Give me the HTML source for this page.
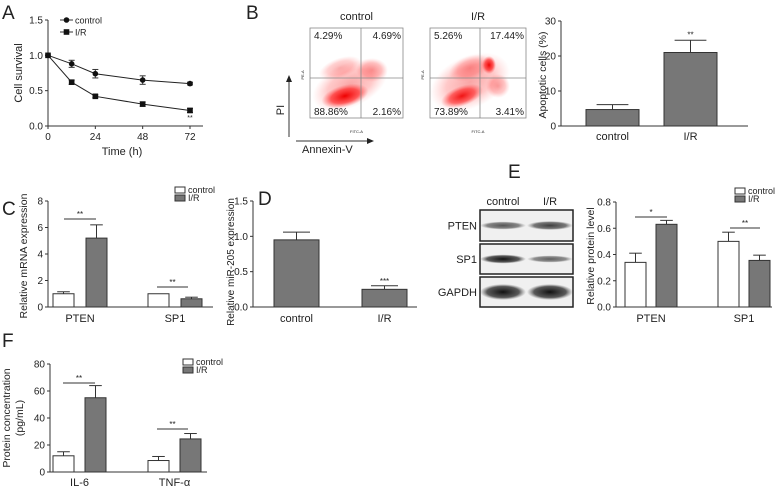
<!DOCTYPE html>
<html><head><meta charset="utf-8"><style>
html,body{margin:0;padding:0;background:#fff}
svg{display:block;font-family:"Liberation Sans",sans-serif}
text{fill:#222}
</style></head><body>
<svg id="fig" width="778" height="488" viewBox="0 0 778 488">
<defs>
<radialGradient id="dots" cx="50%" cy="50%" r="50%"><stop offset="0" stop-color="#e00" stop-opacity="1"/><stop offset="0.6" stop-color="#f22" stop-opacity="0.7"/><stop offset="1" stop-color="#f55" stop-opacity="0"/></radialGradient>
<radialGradient id="band" cx="50%" cy="50%" r="50%"><stop offset="0" stop-color="#111"/><stop offset="0.7" stop-color="#333" stop-opacity="0.8"/><stop offset="1" stop-color="#666" stop-opacity="0"/></radialGradient>
</defs>
<g id="root"></g>
</svg>
<script>
// ---- data ----
const aTimes=[0,12,24,48,72];
const aControl=[1.0,0.88,0.74,0.65,0.60];
const aControlErr=[0,0.05,0.06,0.06,0.02];
const aIR=[1.0,0.62,0.42,0.31,0.22];
const aIRErr=[0,0.03,0.02,0.03,0.03];
const aXTicks=[0,24,48,72];
const aYTicks=["0.0","0.5","1.0","1.5"];

const bCats=["control","I/R"];
const bValues=[4.7,21];
const bErr=[1.4,3.5];
const bYTicks=[0,10,20,30];

const cCats=["PTEN","SP1"];
const cControl=[1.0,1.0];
const cControlErr=[0.15,0.0];
const cIR=[5.2,0.62];
const cIRErr=[1.0,0.12];
const cYTicks=[0,2,4,6,8];

const dCats=["control","I/R"];
const dValues=[0.95,0.25];
const dErr=[0.11,0.05];
const dYTicks=["0.0","0.5","1.0","1.5"];

const eCats=["PTEN","SP1"];
const eControl=[0.34,0.50];
const eControlErr=[0.07,0.07];
const eIR=[0.63,0.355];
const eIRErr=[0.03,0.04];
const eYTicks=["0.0","0.2","0.4","0.6","0.8"];

const fCats=["IL-6","TNF-α"];
const fControl=[12,8.5];
const fControlErr=[3,3];
const fIR=[55,24.5];
const fIRErr=[9,4];
const fYTicks=[0,20,40,60,80];

const NS="http://www.w3.org/2000/svg";
const root=document.getElementById('root');
function mk(tag,attrs,parent,txt){const e=document.createElementNS(NS,tag);for(const k in attrs)e.setAttribute(k,attrs[k]);if(txt!==undefined)e.textContent=txt;(parent||root).appendChild(e);return e;}
function grp(name){const g=mk('g',{});return g;}
function line(p,x1,y1,x2,y2,w){return mk('line',{x1,y1,x2,y2,stroke:'#333','stroke-width':w||1},p);}
function txt(p,x,y,s,size,anchor,extra){const t=mk('text',Object.assign({x,y,'font-size':size||10,'text-anchor':anchor||'middle'},extra||{}),p,s);return t;}
function letter(s,x,y){const t=txt(root,x,y,s,19,'start');}
function yAxis(g,x,y0,y1,ticks,vmax,xEnd){
  const ys=v=>y0-(v/vmax)*(y0-y1);
  line(g,x,y0,x,y1);line(g,x,y0,xEnd,y0);
  ticks.forEach(t=>{const v=parseFloat(t);const y=ys(v);line(g,x-3,y,x,y);txt(g,x-5,y+3.5,String(t),10,'end');});
  return ys;
}
function ytitle(g,x,y,s,size){txt(g,x,y,s,size||11,'middle',{transform:`rotate(-90 ${x} ${y})`});}
function bar(g,x,w,v,err,ys,fill,name){
  const y=ys(v),y0=ys(0);
  const r=mk('rect',{x,y,width:w,height:y0-y,fill,stroke:'#333','stroke-width':1},g);
  
  if(err>0){const ye=ys(v+err);line(g,x+w/2,y,x+w/2,ye);line(g,x+w/2-w*0.3,ye,x+w/2+w*0.3,ye);}
}
function legend(g,x,y){
  mk('rect',{x,y:y-6,width:10,height:6,fill:'#fff',stroke:'#333','stroke-width':1},g);
  txt(g,x+13,y,'control',9,'start');
  mk('rect',{x,y:y+2,width:10,height:6,fill:'#777',stroke:'#333','stroke-width':1},g);
  txt(g,x+13,y+8,'I/R',9,'start');
}
function sig(g,x1,x2,y,s){line(g,x1,y,x2,y);txt(g,(x1+x2)/2,y-2,s,8);}
function grouped(name,ox,y0,y1,xEnd,ticks,vmax,cats,c,ce,ir,ire,groupX,bw,gap,labelY){
  const g=grp(name);
  const ys=yAxis(g,ox,y0,y1,ticks,vmax,xEnd);
  cats.forEach((cat,i)=>{
    const gx=groupX[i];
    bar(g,gx,bw,c[i],ce[i],ys,'#fff','bar-'+cat.toLowerCase()+'-control');
    bar(g,gx+bw+gap,bw,ir[i],ire[i],ys,'#777','bar-'+cat.toLowerCase()+'-ir');
    txt(g,gx+bw+gap/2,labelY,cat,11);
  });
  return {g,ys};
}

// ---- Panel A ----
letter('A',2,19);
{
  const g=grp('cell-survival-chart');
  const xs=t=>48+t/72*142;
  const ys=v=>126-v/1.5*106;
  line(g,48,126,48,20);line(g,48,126,203,126);
  aYTicks.forEach(t=>{const y=ys(parseFloat(t));line(g,45,y,48,y);txt(g,43,y+3.5,t,10,'end');});
  aXTicks.forEach(t=>{const x=xs(t);line(g,x,126,x,129);txt(g,x,140,String(t),10);});
  txt(g,122,155,'Time (h)',11);
  ytitle(g,22,73,'Cell survival',11);
  [[aControl,aControlErr,'circle','control'],[aIR,aIRErr,'square','ir']].forEach(([vals,errs,shape,nm])=>{
    const pts=aTimes.map((t,i)=>xs(t)+','+ys(vals[i])).join(' ');
    const pl=mk('polyline',{points:pts,fill:'none',stroke:'#222','stroke-width':1},g);
    
    aTimes.forEach((t,i)=>{
      const x=xs(t),y=ys(vals[i]);
      if(errs[i]>0){line(g,x,ys(vals[i]+errs[i]),x,ys(vals[i]-errs[i]));line(g,x-3,ys(vals[i]+errs[i]),x+3,ys(vals[i]+errs[i]));line(g,x-3,ys(vals[i]-errs[i]),x+3,ys(vals[i]-errs[i]));}
      if(shape==='circle')mk('circle',{cx:x,cy:y,r:2.8,fill:'#111'},g);
      else mk('rect',{x:x-2.8,y:y-2.8,width:5.6,height:5.6,fill:'#111'},g);
    });
  });
  txt(g,190,120,'**',7);
  line(g,60,20,73,20);mk('circle',{cx:66.5,cy:20,r:2.8,fill:'#111'},g);txt(g,75,23.5,'control',9,'start');
  line(g,60,32,73,32);mk('rect',{x:63.7,y:29.2,width:5.6,height:5.6,fill:'#111'},g);txt(g,75,35.5,'I/R',9,'start');
}

// ---- Panel B flow ----
letter('B',246,19);
{
  const g=grp('flow-cytometry');
  const plots=[{x:310,w:93,gx:361,t:'control',q:['4.29%','4.69%','88.86%','2.16%'],blobs:[[350,85,40,22,-25,0.35],[345,96,24,11,-15,1],[372,70,16,12,0,0.35],[340,68,22,10,-20,0.3]]},
               {x:430,w:96,gx:480,t:'I/R',q:['5.26%','17.44%','73.89%','3.41%'],blobs:[[470,82,42,26,-25,0.35],[462,96,22,10,-20,0.9],[489,65,7,9,0,1],[470,68,22,12,-20,0.35],[498,86,12,12,0,0.35]]}];
  plots.forEach(p=>{
    const pg=mk('g',{},g);
    mk('rect',{x:p.x,y:28,width:p.w,height:90,fill:'#fff',stroke:'#888','stroke-width':0.8},pg);
    p.blobs.forEach(b=>mk('ellipse',{cx:b[0],cy:b[1],rx:b[2],ry:b[3],fill:'url(#dots)',opacity:b[5],transform:`rotate(${b[4]} ${b[0]} ${b[1]})`},pg));
    line(pg,p.gx,28,p.gx,118,0.8).setAttribute('stroke','#888');
    line(pg,p.x,78,p.x+p.w,78,0.8).setAttribute('stroke','#888');
    txt(pg,p.x+p.w/2,20,p.t,11);
    txt(pg,p.x+4,39,p.q[0],10,'start');txt(pg,p.x+p.w-2,39,p.q[1],10,'end');
    txt(pg,p.x+4,115,p.q[2],10,'start');txt(pg,p.x+p.w-2,115,p.q[3],10,'end');
    txt(pg,p.x+p.w/2,133,'FITC-A',4);txt(pg,p.x-6,75,'PE-A',4,'middle',{transform:`rotate(-90 ${p.x-6} 75)`});
  });
  line(g,289,137,289,80);mk('polygon',{points:'289,75 286,82 292,82',fill:'#222'},g);
  line(g,296,141,368,141);mk('polygon',{points:'374,141 367,138 367,144',fill:'#222'},g);
  txt(g,284,110,'PI',11,'middle',{transform:'rotate(-90 284 110)'});
  txt(g,302,153,'Annexin-V',11,'start');
}
// ---- Panel B bar ----
{
  const g=grp('apoptotic-cells-chart');
  const ys=yAxis(g,561,126,21,bYTicks,30,748);
  const bx=[586,664];
  bCats.forEach((c,i)=>{bar(g,bx[i],53,bValues[i],bErr[i],ys,'#777','bar-apoptotic-'+c.toLowerCase().replace('/',''));txt(g,bx[i]+26.5,140,c,11);});
  txt(g,bx[1]+26.5,ys(bValues[1]+bErr[1])-3,'**',8);
  ytitle(g,546,75,'Apoptotic cells (%)',10.5);
}

// ---- Panel C ----
letter('C',2,215);
{
  const r=grouped('mrna-expression-chart',48,307,201,213,cYTicks,8,cCats,cControl,cControlErr,cIR,cIRErr,[53,148],21,12,322);
  sig(r.g,64,96,219,'**');sig(r.g,157,188,287,'**');
  ytitle(r.g,27,256,'Relative mRNA expression',10.5);
  legend(r.g,175,193);
}
// ---- Panel D ----
letter('D',258,205);
{
  const g=grp('mir205-expression-chart');
  const ys=yAxis(g,253,307,201,dYTicks,1.5,417);
  const bx=[274,362];
  dCats.forEach((c,i)=>{bar(g,bx[i],45,dValues[i],dErr[i],ys,'#777','bar-mir205-'+c.toLowerCase().replace('/',''));txt(g,bx[i]+22.5,322,c,11);});
  txt(g,bx[1]+22.5,ys(dValues[1]+dErr[1])-2,'***',8);
  ytitle(g,234,262,'Relative miR-205 expression',10);
}
// ---- Panel E blot ----
letter('E',508,178);
{
  const g=grp('western-blot');
  txt(g,503,205,'control',11);txt(g,550,205,'I/R',11);
  const rows=[['PTEN',210,241,[[503,4,0.7],[550,4.5,0.8]]],['SP1',244,274,[[503,4.5,1],[550,3.5,0.65]]],['GAPDH',277,307,[[503,8,1],[550,8,1]]]];
  rows.forEach(([n,y1,y2,bands])=>{
    const rg=mk('g',{},g);
    mk('rect',{x:480,y:y1,width:93,height:y2-y1,fill:'#f0f0f0',stroke:'#222','stroke-width':1.5},rg);
    bands.forEach(b=>mk('ellipse',{cx:b[0],cy:(y1+y2)/2,rx:23,ry:b[1],fill:'url(#band)',opacity:b[2]},rg));
    txt(rg,477,(y1+y2)/2+4,n,11,'end');
  });
}
// ---- Panel E bar ----
{
  const r=grouped('protein-level-chart',616,307,202,772,eYTicks,0.8,eCats,eControl,eControlErr,eIR,eIRErr,[625,718],21,10,322);
  sig(r.g,635,667,217,'*');sig(r.g,730,760,228,'**');
  ytitle(r.g,594,256,'Relative protein level',10.5);
  legend(r.g,735,194);
}
// ---- Panel F ----
letter('F',2,347);
{
  const r=grouped('protein-concentration-chart',50,472,364,207,fYTicks,80,fCats,fControl,fControlErr,fIR,fIRErr,[53,148],21,11,486);
  sig(r.g,63,95,383,'**');sig(r.g,157,188,429,'**');
  ytitle(r.g,10,418,'Protein concentration',10.5);ytitle(r.g,23,418,'(pg/mL)',10.5);
  legend(r.g,183,365);
}
</script>
</body></html>
